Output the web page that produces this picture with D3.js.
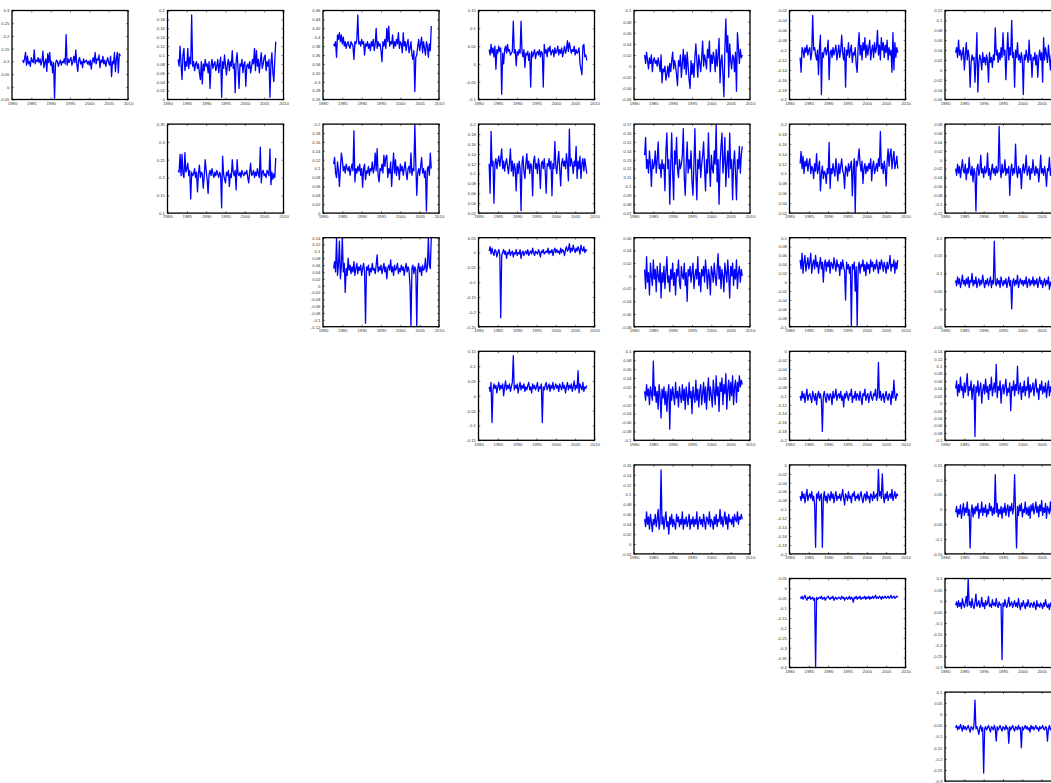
<!DOCTYPE html>
<html><head><meta charset="utf-8">
<script src="https://cdn.jsdelivr.net/npm/d3@7"></script>
<style>html,body{margin:0;padding:0;background:#fff;} svg{display:block;}</style>
</head><body><svg id="chart" width="1051" height="783"></svg>
<script>
// Quarterly observation dates shared by every series
const quarters = d3.range(102).map(i => 1982.75 + i * 0.25);
const xTicks = [1980, 1985, 1990, 1995, 2000, 2005, 2010];

// ---- row 1 ----
const s11 = [
0.105,0.095,0.11,0.135,0.085,0.12,0.09,0.1,0.08,0.115,
0.1,0.095,0.145,0.09,0.105,0.1,0.115,0.095,0.11,0.085,
0.1,0.14,0.075,0.095,0.11,0.06,0.13,0.095,0.135,0.085,
0.1,0.055,0.095,-0.045,0.09,0.105,0.1,0.08,0.095,0.105,
0.085,0.1,0.095,0.11,0.09,0.205,0.085,0.11,0.095,0.105,
0.115,0.085,0.1,0.12,0.095,0.145,0.09,0.06,0.105,0.115,
0.09,0.1,0.075,0.11,0.095,0.1,0.105,0.09,0.1,0.085,
0.105,0.07,0.1,0.115,0.095,0.135,0.09,0.11,0.105,0.125,
0.075,0.105,0.095,0.12,0.09,0.105,0.08,0.1,0.115,0.095,
0.085,0.12,0.04,0.1,0.09,0.135,0.06,0.11,0.135,0.055,
0.13,0.12];
const yt11 = [-0.05,0,0.05,0.1,0.15,0.2,0.25,0.3];

const s12 = [
0.09,0.075,0.12,0.08,0.045,0.1,0.115,0.065,0.085,0.075,
0.115,0.07,0.095,0.08,0.19,0.075,0.085,0.065,0.08,0.085,
0.07,0.08,0.06,0.045,0.085,0.035,0.08,0.065,0.09,0.075,
0.08,0.06,0.085,0.025,0.075,0.09,0.07,0.08,0.085,0.065,
0.075,0.09,0.06,0.08,0.095,0.005,0.085,0.07,0.1,0.075,
0.055,0.08,0.09,0.065,0.085,0.075,0.11,0.07,0.08,0.015,
0.085,0.105,0.07,0.025,0.08,0.075,0.09,0.06,0.08,0.085,
0.03,0.075,0.08,0.07,0.085,0.06,0.075,0.09,0.08,0.115,
0.065,0.11,0.075,0.09,0.06,0.085,0.105,0.07,0.08,0.095,
0.1,0.065,0.085,0.075,0.09,0.005,0.08,0.105,0.06,0.04,
0.09,0.13];
const yt12 = [0,0.02,0.04,0.06,0.08,0.1,0.12,0.14,0.16,0.18,0.2];

const s13 = [
0.385,0.38,0.39,0.355,0.405,0.395,0.41,0.39,0.405,0.385,
0.4,0.38,0.39,0.375,0.385,0.39,0.38,0.375,0.39,0.385,
0.38,0.35,0.39,0.385,0.395,0.45,0.385,0.39,0.38,0.395,
0.385,0.39,0.36,0.385,0.38,0.39,0.375,0.385,0.37,0.39,
0.38,0.395,0.37,0.385,0.42,0.375,0.39,0.38,0.385,0.37,
0.345,0.39,0.38,0.395,0.375,0.42,0.39,0.425,0.38,0.39,
0.385,0.405,0.375,0.39,0.38,0.395,0.385,0.41,0.375,0.39,
0.385,0.365,0.41,0.38,0.39,0.37,0.385,0.395,0.365,0.375,
0.39,0.36,0.35,0.37,0.278,0.355,0.36,0.38,0.395,0.37,
0.385,0.4,0.365,0.39,0.375,0.36,0.39,0.38,0.355,0.385,
0.37,0.425];
const yt13 = [0.26,0.28,0.3,0.32,0.34,0.36,0.38,0.4,0.42,0.44,0.46];

const s14 = [
0.04,0.025,0.055,0.03,0.045,0.02,0.05,-0.015,0.04,0.03,
0.05,0.035,0.045,-0.085,0.03,0,0.04,0.05,0.03,0.055,
0.035,0.04,0.025,0.03,0.035,0.12,0.03,0.04,-0.005,0.035,
0.025,0.04,0.03,0.12,0.035,0.02,0.04,-0.01,0.03,0.025,
0.035,0.01,0.03,-0.065,0.035,0.02,0.03,0.04,0.015,0.03,
0.035,0.025,0.04,0.02,0.035,0.03,-0.065,0.055,0.03,0.04,
0.02,0.045,0.035,0.05,0.025,0.035,0.04,0.02,0.045,0.03,
0.035,0.05,0.025,0.04,0.03,0.045,0.02,0.035,0.05,0.03,
0.04,0.065,0.035,0.06,0.045,0.03,0.04,0.035,0.05,0.025,
0.04,0.03,0.035,0.045,0,-0.015,-0.03,0.05,0.055,0.02,
0.025,0.01];
const yt14 = [-0.1,-0.05,0,0.05,0.1,0.15];

const s15 = [
0.02,0.005,0.025,0.01,-0.005,0.015,0.005,0.02,-0.01,0.01,
0.015,0.005,0.01,0,0.015,0.005,-0.01,0.02,-0.03,-0.005,
-0.01,0,-0.025,-0.015,0,-0.02,0.005,-0.01,0.01,0.025,
-0.005,0.01,0,-0.015,-0.035,0.01,0,0.02,-0.02,0.005,
0.03,-0.005,0.02,-0.015,0.025,0,-0.025,-0.04,0.01,-0.015,
0.005,-0.02,0.015,0.04,0.01,-0.02,0.02,0.005,-0.01,0.015,
0.045,0,0.02,0.01,-0.005,0.03,0.015,0.045,-0.01,0.02,
0.005,0.025,0.015,-0.01,0.03,0,0.02,0.05,-0.03,0.01,
0.02,-0.015,-0.055,0.03,0.085,0.025,0.055,-0.02,0.04,0.01,
-0.005,0.02,0.015,-0.01,0.025,-0.045,0.06,0.035,0.005,0.03,
0.015,0.02];
const yt15 = [-0.06,-0.04,-0.02,0,0.02,0.04,0.06,0.08,0.1];

const s16 = [
-0.115,-0.145,-0.095,-0.1,-0.115,-0.095,-0.105,-0.09,-0.11,-0.1,
-0.095,-0.12,-0.105,-0.03,-0.1,-0.095,-0.11,-0.12,-0.1,-0.15,
-0.095,-0.07,-0.19,-0.105,-0.115,-0.1,-0.095,-0.11,-0.1,-0.08,
-0.16,-0.105,-0.1,-0.115,-0.095,-0.11,-0.1,-0.09,-0.12,-0.105,
-0.09,-0.115,-0.1,-0.07,-0.105,-0.12,-0.095,-0.175,-0.1,-0.11,
-0.085,-0.115,-0.1,-0.09,-0.125,-0.105,-0.11,-0.095,-0.13,-0.145,
-0.095,-0.065,-0.11,-0.09,-0.12,-0.085,-0.1,-0.075,-0.115,-0.09,
-0.11,-0.095,-0.08,-0.12,-0.1,-0.09,-0.115,-0.085,-0.105,-0.095,
-0.06,-0.11,-0.09,-0.12,-0.075,-0.1,-0.085,-0.115,-0.09,-0.105,
-0.08,-0.12,-0.095,-0.11,-0.1,-0.145,-0.065,-0.14,-0.085,-0.115,
-0.095,-0.105];
const yt16 = [-0.2,-0.18,-0.16,-0.14,-0.12,-0.1,-0.08,-0.06,-0.04,-0.02];

const s17 = [
0.035,0.045,0.025,0.06,0.03,0.04,0.02,0.035,0.045,0,
0.03,0.055,0.02,0.04,0.025,-0.035,0.015,0.03,0.02,0.025,
-0.025,0.02,0.075,-0.045,0.015,0.03,0.02,0,0.035,0.015,
0.025,0.01,0.03,0.02,-0.025,0.035,0.015,0.025,0.005,0.03,
0.02,0.085,0.03,0.04,0.015,0.035,0.02,0.045,0.025,0.075,
0.03,0.04,-0.02,0.035,0.075,0.02,0.045,0.03,0.1,0.025,
0.035,-0.035,0.04,0.025,0.055,0.02,0.03,0.015,0.035,0.02,
-0.05,0.03,0.02,0.04,0.025,0.015,0.06,0.02,0.03,-0.015,
0.025,0.02,0.035,0.01,0.03,-0.015,0.025,0.04,0.02,0.035,
-0.025,0.065,0.02,0.045,0.03,0.015,0.05,0.025,0,0.03,
0.02,0.035];
const yt17 = [-0.06,-0.04,-0.02,0,0.02,0.04,0.06,0.08,0.1,0.12];

// ---- row 2 ----
const s22 = [
0.22,0.215,0.265,0.205,0.265,0.21,0.2,0.27,0.215,0.225,
0.24,0.205,0.22,0.14,0.215,0.205,0.21,0.225,0.2,0.215,
0.16,0.21,0.235,0.2,0.215,0.21,0.17,0.205,0.25,0.22,
0.195,0.155,0.21,0.22,0.205,0.225,0.21,0.2,0.215,0.205,
0.22,0.21,0.2,0.215,0.205,0.115,0.26,0.21,0.195,0.185,
0.215,0.205,0.22,0.175,0.21,0.2,0.25,0.215,0.205,0.22,
0.165,0.25,0.21,0.205,0.215,0.2,0.22,0.21,0.205,0.215,
0.21,0.22,0.2,0.185,0.215,0.24,0.205,0.21,0.22,0.2,
0.215,0.205,0.225,0.21,0.2,0.285,0.185,0.215,0.22,0.205,
0.21,0.2,0.22,0.215,0.205,0.28,0.18,0.215,0.195,0.21,
0.2,0.255];
const yt22 = [0.1,0.15,0.2,0.25,0.3,0.35];

const s23 = [
0.11,0.125,0.09,0.08,0.115,0.095,0.06,0.1,0.135,0.12,
0.095,0.105,0.09,0.11,0.1,0.095,0.105,0.085,0.1,0.11,
0.095,0.185,0.07,0.1,0.09,0.105,0.095,0.11,0.085,0.1,
0.058,0.1,0.11,0.075,0.095,0.09,0.105,0.085,0.1,0.095,
0.115,0.09,0.1,0.135,0.095,0.145,0.085,0.07,0.1,0.095,
0.11,0.09,0.13,0.105,0.125,0.13,0.08,0.1,0.09,0.115,
0.06,0.1,0.135,0.09,0.12,0.085,0.105,0.1,0.075,0.11,
0.095,0.105,0.085,0.1,0.115,0.09,0.075,0.1,0.105,0.09,
0.135,0.085,0.1,0.095,0.2,0.11,0.04,0.09,0.1,0.085,
0.105,0.125,0.09,0.1,0.08,0.095,0.005,0.1,0.105,0.085,
0.135,0.1];
const yt23 = [0,0.02,0.04,0.06,0.08,0.1,0.12,0.14,0.16,0.18,0.2];

const s24 = [
0.12,0.06,0.185,0.115,0.125,0.04,0.12,0.13,0.11,0.125,
0.135,0.115,0.13,0.15,0.11,0.125,0.105,0.12,0.13,0.115,
0.1,0.12,0.15,0.105,0.125,0.095,0.12,0.11,0.065,0.12,
0.1,0.125,0.11,0.025,0.12,0.135,0.105,0.09,0.12,0.14,
0.11,0.125,0.1,0.12,0.115,0.055,0.125,0.135,0.11,0.12,
0.1,0.13,0.115,0.07,0.12,0.125,0.11,0.13,0.105,0.06,
0.12,0.115,0.13,0.11,0.125,0.055,0.12,0.11,0.165,0.115,
0.1,0.125,0.145,0.11,0.075,0.12,0.13,0.115,0.125,0.11,
0.14,0.12,0.085,0.19,0.115,0.13,0.12,0.1,0.125,0.115,
0.155,0.09,0.125,0.11,0.135,0.09,0.12,0.13,0.105,0.13,
0.115,0.1];
const yt24 = [0.02,0.04,0.06,0.08,0.1,0.12,0.14,0.16,0.18,0.2];

const s25 = [
0.135,0.155,0.12,0.13,0.115,0.14,0.125,0.1,0.13,0.12,
0.125,0.14,0.115,0.13,0.15,0.12,0.125,0.11,0.13,0.12,
0.125,0.095,0.14,0.16,0.12,0.13,0.08,0.125,0.16,0.115,
0.085,0.14,0.125,0.155,0.12,0.11,0.13,0.12,0.125,0.135,
0.165,0.11,0.09,0.125,0.15,0.115,0.13,0.12,0.14,0.105,
0.09,0.125,0.165,0.115,0.085,0.13,0.12,0.14,0.11,0.125,
0.135,0.15,0.12,0.095,0.13,0.115,0.16,0.125,0.1,0.135,
0.12,0.115,0.14,0.125,0.17,0.105,0.13,0.08,0.125,0.145,
0.16,0.115,0.13,0.155,0.1,0.125,0.14,0.11,0.16,0.12,
0.13,0.085,0.125,0.14,0.115,0.085,0.13,0.12,0.145,0.115,
0.135,0.145];
const yt25 = [0.07,0.08,0.09,0.1,0.11,0.12,0.13,0.14,0.15,0.16,0.17];

const s26 = [
0.12,0.145,0.11,0.135,0.1,0.125,0.115,0.13,0.105,0.12,
0.13,0.1,0.115,0.11,0.09,0.12,0.105,0.14,0.1,0.11,
0.125,0.065,0.1,0.115,0.09,0.105,0.1,0.08,0.11,0.1,
0.163,0.07,0.11,0.1,0.12,0.105,0.095,0.13,0.11,0.085,
0.12,0.1,0.115,0.13,0.105,0.1,0.07,0.115,0.11,0.095,
0.12,0.105,0.115,0.125,0.055,0.11,0.13,0.02,0.125,0.115,
0.13,0.15,0.12,0.105,0.125,0.08,0.11,0.12,0.1,0.115,
0.105,0.12,0.11,0.13,0.085,0.115,0.125,0.1,0.11,0.12,
0.105,0.13,0.115,0.185,0.11,0.12,0.1,0.125,0.11,0.075,
0.125,0.15,0.115,0.14,0.15,0.11,0.13,0.145,0.11,0.12,
0.135,0.11];
const yt26 = [0.02,0.04,0.06,0.08,0.1,0.12,0.14,0.16,0.18,0.2];

const s27 = [
-0.02,-0.035,-0.01,-0.03,-0.015,-0.04,-0.02,0,-0.025,-0.03,
-0.01,-0.045,-0.02,-0.03,0.005,-0.025,-0.035,-0.015,-0.05,-0.02,
-0.03,-0.115,-0.02,-0.01,-0.035,-0.025,0.01,-0.03,-0.02,-0.04,
-0.015,-0.03,-0.025,0.015,-0.035,-0.02,-0.045,-0.025,-0.01,-0.03,
-0.02,-0.035,-0.015,-0.03,-0.025,0.075,-0.02,-0.04,-0.01,-0.03,
-0.025,0,-0.035,-0.02,-0.03,-0.015,-0.08,-0.025,-0.01,-0.035,
-0.02,-0.03,0.035,-0.025,-0.04,-0.015,-0.03,-0.02,-0.065,-0.025,
-0.01,-0.03,-0.02,0.01,-0.035,-0.025,-0.015,-0.045,-0.02,-0.03,
0,-0.025,-0.035,-0.015,-0.03,-0.02,-0.05,-0.025,0.01,-0.03,
-0.02,-0.035,-0.015,-0.03,-0.06,-0.02,-0.025,0.005,-0.035,-0.02,
-0.03,-0.025];
const yt27 = [-0.12,-0.1,-0.08,-0.06,-0.04,-0.02,0,0.02,0.04,0.06,0.08];

// ---- row 3 ----
const s33 = [
0.05,0.07,0.04,0.14,0.03,0.06,0.13,0.02,0.055,0.14,
0.04,0.065,-0.02,0.05,0.03,0.08,0.045,0.06,0.035,0.055,
0.04,0.07,0.03,0.05,0.065,0.035,0.055,0.045,0.06,0.03,
0.05,0.065,0.04,-0.11,0.055,0.045,0.06,0.03,0.05,0.04,
0.065,0.045,0.05,0.035,0.06,0.09,0.04,0.055,0.045,0.06,
0.035,0.05,0.065,0.04,0.055,0.02,0.05,0.06,0.045,0.075,
0.04,0.055,0.03,0.06,0.045,0.05,0.065,0.035,0.05,0.04,
0.06,0.045,0.055,0.03,0.05,0.065,0.04,0.055,0.045,0,
-0.12,0.05,0.06,0.035,0.055,0.045,-0.12,0.05,0.065,0.04,
0.055,0.03,0.06,0.045,0.05,0.08,0.04,0.055,0.14,0.06,
0.05,0.14];
const yt33 = [-0.12,-0.1,-0.08,-0.06,-0.04,-0.02,0,0.02,0.04,0.06,0.08,0.1,0.12,0.14];

const s34 = [
0.005,0.02,-0.005,0.015,0,-0.01,0.01,0.005,-0.015,0,
0.01,-0.005,-0.22,-0.01,0,0.01,-0.005,0.005,-0.02,0,
-0.005,0.01,-0.01,0,0.005,-0.015,0,-0.005,0.01,-0.01,
0,-0.005,0.01,-0.02,0,0.005,-0.01,0,0.005,-0.005,
0.01,-0.01,0,0.005,-0.005,0.015,0,-0.01,0.005,0,
-0.005,0.01,0,-0.015,0.005,0,0.01,-0.005,0,0.005,
0,0.015,-0.005,0.005,0,0.01,-0.01,0.005,0.015,0,
0.01,0,0.005,-0.005,0.015,0,0.01,0.005,-0.01,0.01,
0.02,0.005,0.01,0.03,0,0.015,0.005,0.025,0.01,0,
0.015,0.005,0.02,0.01,-0.005,0.025,0.01,0.005,0.02,0,
0.01,0.005];
const yt34 = [-0.25,-0.2,-0.15,-0.1,-0.05,0,0.05];

const s35 = [
0.01,-0.02,0.03,-0.01,0.005,-0.03,0.02,0,-0.015,0.025,
-0.005,0.01,-0.025,0.015,0,-0.01,0.02,-0.035,0.005,-0.01,
0.015,-0.02,0.005,0.03,-0.01,0,-0.025,0.01,-0.005,0.02,
-0.015,0.005,-0.03,0.01,0,0.025,-0.01,-0.02,0.015,0,
-0.005,0.02,-0.015,0.005,-0.04,0.01,0,0.015,-0.01,0.005,
0.02,-0.02,0,0.01,-0.005,0.03,-0.015,0.005,-0.025,0.01,
0,0.015,-0.01,0.025,0.005,-0.02,0.01,0,-0.03,0.015,
0.005,-0.01,0.02,0,-0.015,0.01,0.035,-0.005,0.015,-0.02,
0.01,0,-0.025,0.02,0.005,-0.01,0.025,0,-0.035,0.015,
0,0.02,-0.015,0.01,-0.005,0.025,-0.02,0.005,0.015,-0.01,
0.01,0];
const yt35 = [-0.08,-0.06,-0.04,-0.02,0,0.02,0.04,0.06];

const s36 = [
0.05,0.03,0.065,0.02,0.045,0.06,0.025,0.04,0.055,0.03,
0.045,0.065,0.02,0.04,0.05,0.03,0.06,0.035,0.045,0.02,
0.04,0.055,0.03,0.045,0,0.04,0.05,0.025,0.045,0.035,
0.05,0.02,0.045,0.04,0.03,0.055,0.04,0.025,0.05,0.035,
0.04,0.015,0.045,0.03,0.05,0.035,0.025,-0.04,0.045,0.03,
0.04,0.02,0.035,-0.1,0.04,0.03,0.045,-0.02,0.035,-0.1,
0.03,0.045,0.02,0.04,0.035,0.05,0.025,0.04,0.015,0.045,
0.03,0.04,0.02,0.05,0.035,0.045,0.025,0.04,0.03,0.05,
0.035,0.02,0.045,0.03,0.05,0.04,0.025,0.045,0.035,0.02,
0.045,0.03,0.04,0.06,0.025,0.04,0.035,0.05,0.02,0.045,
0.03,0.05];
const yt36 = [-0.1,-0.08,-0.06,-0.04,-0.02,0,0.02,0.04,0.06,0.08,0.1];

const s37 = [
0.08,0.065,0.09,0.07,0.085,0.06,0.075,0.095,0.07,0.08,
0.065,0.085,0.07,0.09,0.06,0.08,0.075,0.1,0.065,0.08,
0.07,0.09,0.06,0.075,0.085,0.065,0.08,0.07,0.095,0.075,
0.06,0.08,0.07,0.085,0.065,0.075,0.09,0.06,0.08,0.07,
0.19,0.075,0.065,0.085,0.07,0.08,0.06,0.09,0.075,0.065,
0.08,0.07,0.085,0.06,0.075,0.09,0.065,0.08,0,0.075,
0.085,0.065,0.08,0.07,0.095,0.06,0.075,0.085,0.07,0.08,
0.065,0.08,0.07,0.09,0.06,0.075,0.085,0.065,0.08,0.07,
0.09,0.065,0.08,0.07,0.085,0.06,0.075,0.09,0.07,0.08,
0.06,0.075,0.085,0.065,0.08,0.07,0.09,0.055,0.075,0.065,
0.06,0.05];
const yt37 = [-0.05,0,0.05,0.1,0.15,0.2];

// ---- row 4 ----
const s44 = [
0.03,0.015,0.045,-0.09,0.02,0.04,0.025,0.035,0.01,0.03,
0.045,0.02,0.035,0.025,0.04,0,0.03,0.05,0.02,0.035,
0.025,0.04,0.015,0.03,0.045,0.135,0.02,0.035,0.025,0.04,
0.01,0.03,0.045,0.02,0.035,0.025,0.04,0.015,0.03,0.02,
0.035,0.045,0.02,0.03,0.01,0.04,0.025,0.035,0.02,0.03,
0.045,0.015,0.03,0.025,0.04,-0.09,0.03,0.02,0.035,0.045,
0.02,0.03,0.04,0.015,0.035,0.025,0.045,0.02,0.03,0.04,
0.025,0.035,0.015,0.04,0.03,0.02,0.045,0.025,0.035,0.01,
0.03,0.045,0.02,0.035,0.025,0.04,0.015,0.03,0.05,0.02,
0.035,0.025,0.085,0.01,0.04,0.03,0.02,0.045,0.015,0.03,
0.025,0.035];
const yt44 = [-0.15,-0.1,-0.05,0,0.05,0.1,0.15];

const s45 = [
0.01,-0.01,0.025,0,0.015,-0.02,0.02,0.005,-0.01,0.078,
0,0.02,-0.015,0.01,-0.03,0.025,0,-0.05,0.015,-0.005,
0.02,-0.02,0.01,-0.035,0.005,0.025,-0.075,0.015,-0.01,0.02,
0,-0.02,0.03,-0.005,0.01,-0.025,0.02,0,-0.015,0.025,
-0.01,0.015,-0.03,0.02,0,-0.02,0.03,-0.005,0.01,-0.04,
0.02,0,-0.015,0.035,-0.01,0.015,-0.025,0.01,0.025,-0.02,
0.005,0.03,-0.015,0.02,-0.03,0.01,0.04,-0.01,0.02,0,
-0.025,0.035,0.01,-0.02,0.045,0,0.02,-0.035,0.03,0.01,
0.04,-0.02,0.025,0.005,0.05,-0.03,0.015,0.035,-0.01,0.03,
0,0.045,-0.02,0.02,0.035,-0.015,0.03,0.01,0.045,0.02,
0.035,0.025];
const yt45 = [-0.1,-0.08,-0.06,-0.04,-0.02,0,0.02,0.04,0.06,0.08,0.1];

const s46 = [
-0.1,-0.11,-0.09,-0.105,-0.095,-0.115,-0.1,-0.085,-0.11,-0.1,
-0.095,-0.105,-0.115,-0.09,-0.1,-0.11,-0.095,-0.12,-0.1,-0.09,
-0.105,-0.095,-0.11,-0.18,-0.1,-0.09,-0.105,-0.115,-0.095,-0.1,
-0.11,-0.095,-0.1,-0.12,-0.09,-0.105,-0.1,-0.085,-0.11,-0.1,
-0.095,-0.105,-0.09,-0.11,-0.1,-0.125,-0.095,-0.105,-0.09,-0.1,
-0.11,-0.095,-0.1,-0.085,-0.115,-0.1,-0.105,-0.09,-0.11,-0.095,
-0.1,-0.11,-0.09,-0.105,-0.12,-0.095,-0.1,-0.085,-0.11,-0.1,
-0.095,-0.115,-0.1,-0.09,-0.105,-0.11,-0.095,-0.1,-0.085,-0.11,
-0.1,-0.025,-0.105,-0.09,-0.11,-0.1,-0.095,-0.115,-0.1,-0.09,
-0.105,-0.11,-0.095,-0.1,-0.12,-0.09,-0.105,-0.065,-0.1,-0.11,
-0.095,-0.1];
const yt46 = [-0.2,-0.18,-0.16,-0.14,-0.12,-0.1,-0.08,-0.06,-0.04,-0.02,0];

const s47 = [
0.04,0.06,0.02,0.05,0.03,0.07,0.035,0.045,0.015,0.055,
0.03,0.05,0.08,0.02,0.045,0.035,0.06,0.01,0.04,0.05,
-0.09,0.045,0.03,0.06,0.02,0.04,0.055,0,0.035,0.05,
0.025,0.065,0.03,0.045,0.01,0.05,0.035,0.07,0.02,0.04,
0.055,0.03,0.105,0.015,0.045,0.035,0.06,0,0.04,0.05,
0.025,0.045,0.065,0.02,0.04,0.03,0.055,-0.02,0.045,0.035,
0.06,0.02,0.05,0.035,0.1,0.025,0.04,0.055,0.01,0.045,
0.03,0.06,0.02,0.045,0.035,0.07,0.015,0.05,0.03,0.04,
0.055,0.02,0.045,0.065,0.03,0.04,0.01,0.05,0.035,0.06,
0.025,0.045,0.03,0.055,0.015,0.04,0.06,0.02,0.045,0.03,
0.035,0.05];
const yt47 = [-0.1,-0.08,-0.06,-0.04,-0.02,0,0.02,0.04,0.06,0.08,0.1,0.12,0.14];

// ---- row 5 ----
const s55 = [
0.05,0.035,0.065,0.04,0.055,0.03,0.06,0.045,0.025,0.05,
0.04,0.06,0.035,0.05,0.07,0.03,0.045,0.15,0.04,0.055,
0.03,0.05,0.065,0.035,0.045,0.02,0.055,0.04,0.06,0.035,
0.05,0.04,0.03,0.06,0.045,0.055,0.035,0.05,0.04,0.065,
0.03,0.05,0.04,0.055,0.035,0.045,0.06,0.03,0.05,0.04,
0.055,0.035,0.05,0.04,0.065,0.03,0.045,0.055,0.04,0.05,
0.035,0.06,0.045,0.03,0.055,0.05,0.04,0.065,0.035,0.05,
0.045,0.03,0.055,0.04,0.06,0.035,0.05,0.045,0.07,0.04,
0.055,0.035,0.05,0.065,0.04,0.055,0.03,0.06,0.045,0.05,
0.04,0.055,0.035,0.06,0.05,0.045,0.065,0.04,0.055,0.05,
0.06,0.05];
const yt55 = [-0.02,0,0.02,0.04,0.06,0.08,0.1,0.12,0.14,0.16];

const s56 = [
-0.07,-0.08,-0.06,-0.075,-0.065,-0.085,-0.07,-0.055,-0.08,-0.07,
-0.065,-0.075,-0.06,-0.08,-0.07,-0.09,-0.185,-0.065,-0.075,-0.06,
-0.08,-0.07,-0.065,-0.185,-0.075,-0.06,-0.08,-0.07,-0.085,-0.065,
-0.07,-0.08,-0.06,-0.075,-0.065,-0.085,-0.07,-0.06,-0.08,-0.07,
-0.075,-0.065,-0.08,-0.07,-0.055,-0.075,-0.09,-0.065,-0.07,-0.08,
-0.06,-0.075,-0.07,-0.085,-0.065,-0.07,-0.06,-0.08,-0.07,-0.075,
-0.065,-0.08,-0.07,-0.06,-0.075,-0.085,-0.07,-0.065,-0.08,-0.06,
-0.075,-0.07,-0.085,-0.065,-0.07,-0.08,-0.06,-0.075,-0.07,-0.065,
-0.08,-0.01,-0.07,-0.06,-0.075,-0.02,-0.07,-0.085,-0.065,-0.075,
-0.06,-0.08,-0.07,-0.065,-0.075,-0.055,-0.08,-0.07,-0.06,-0.075,
-0.065,-0.07];
const yt56 = [-0.2,-0.18,-0.16,-0.14,-0.12,-0.1,-0.08,-0.06,-0.04,-0.02,0];

const s57 = [
-0.01,0.01,-0.025,0,-0.015,0.015,-0.03,-0.005,0.02,-0.02,
0.005,-0.01,0.025,-0.02,0,-0.13,-0.01,0.015,-0.025,0.005,
-0.015,0.01,-0.005,0.02,-0.03,0,-0.01,0.025,-0.02,0.005,
-0.01,0.015,-0.025,0,-0.015,0.02,-0.005,0.01,-0.02,0.005,
-0.015,0.117,-0.01,0.02,-0.025,0,-0.015,0.01,-0.03,0.005,
-0.01,0.02,-0.02,0,0.015,-0.025,0.01,-0.005,0.02,-0.015,
0.005,0.117,-0.01,-0.13,0.01,-0.02,0.015,-0.005,0.02,-0.025,
0,-0.01,0.025,-0.015,0.005,-0.02,0.01,-0.03,0.015,-0.005,
0.02,-0.015,0,0.025,-0.01,0.01,-0.025,0.015,-0.005,0.03,
-0.02,0.005,-0.01,0.02,-0.03,0.01,0,-0.015,0.025,-0.01,
0.005,-0.005];
const yt57 = [-0.15,-0.1,-0.05,0,0.05,0.1,0.15];

// ---- row 6 ----
const s66 = [
-0.045,-0.05,-0.04,-0.055,-0.045,-0.035,-0.05,-0.06,-0.045,-0.05,
-0.04,-0.055,-0.05,-0.045,-0.06,-0.05,-0.4,-0.045,-0.055,-0.05,
-0.045,-0.05,-0.04,-0.055,-0.05,-0.045,-0.06,-0.05,-0.045,-0.04,
-0.05,-0.055,-0.045,-0.05,-0.04,-0.06,-0.05,-0.045,-0.055,-0.05,
-0.045,-0.05,-0.055,-0.04,-0.05,-0.045,-0.06,-0.05,-0.045,-0.055,
-0.05,-0.04,-0.055,-0.045,-0.05,-0.07,-0.045,-0.05,-0.04,-0.055,
-0.045,-0.05,-0.04,-0.055,-0.05,-0.045,-0.05,-0.04,-0.055,-0.045,
-0.05,-0.04,-0.055,-0.045,-0.05,-0.04,-0.05,-0.045,-0.035,-0.05,
-0.045,-0.05,-0.04,-0.045,-0.055,-0.04,-0.05,-0.045,-0.04,-0.05,
-0.045,-0.04,-0.05,-0.045,-0.035,-0.05,-0.045,-0.04,-0.05,-0.045,
-0.04,-0.045];
const yt66 = [-0.4,-0.35,-0.3,-0.25,-0.2,-0.15,-0.1,-0.05,0,0.05];

const s67 = [
-0.02,-0.005,-0.03,0,-0.025,-0.01,-0.035,0.01,-0.015,-0.03,
-0.01,0.02,-0.025,0.1,-0.02,-0.005,-0.03,0.01,-0.02,-0.035,
-0.01,0.03,-0.025,-0.015,0,-0.03,-0.02,0.015,-0.025,-0.01,
-0.035,0,-0.02,-0.01,0.02,-0.025,-0.015,-0.03,0.005,-0.02,
-0.01,-0.025,0.01,-0.02,-0.03,-0.005,-0.02,-0.015,-0.265,-0.01,
-0.025,0.005,-0.02,-0.03,-0.01,0.015,-0.025,-0.015,-0.005,-0.03,
-0.015,0,-0.025,-0.01,-0.03,0.01,-0.02,-0.04,-0.01,-0.025,
0,-0.02,-0.035,-0.01,-0.025,0.005,-0.02,-0.03,-0.01,-0.015,
-0.03,-0.005,-0.02,-0.04,0,-0.025,-0.015,-0.03,-0.01,-0.02,
-0.035,-0.01,-0.025,0.005,-0.02,-0.03,-0.015,-0.04,-0.01,-0.025,
-0.02,-0.03];
const yt67 = [-0.3,-0.25,-0.2,-0.15,-0.1,-0.05,0,0.05,0.1];

// ---- row 7 ----
const s77 = [
-0.06,-0.05,-0.07,-0.055,-0.065,-0.045,-0.06,-0.075,-0.05,-0.065,
-0.055,-0.07,-0.06,-0.05,-0.065,-0.08,-0.055,-0.06,-0.07,-0.05,
0.064,-0.065,-0.055,-0.07,-0.09,-0.06,-0.05,-0.075,-0.06,-0.264,
-0.065,-0.055,-0.07,-0.06,-0.05,-0.065,-0.08,-0.055,-0.06,-0.07,
-0.05,-0.065,-0.12,-0.055,-0.07,-0.06,-0.05,-0.065,-0.075,-0.055,
-0.06,-0.07,-0.05,-0.065,-0.06,-0.13,-0.055,-0.07,-0.06,-0.05,
-0.065,-0.075,-0.055,-0.06,-0.07,-0.05,-0.065,-0.06,-0.15,-0.055,
-0.07,-0.06,-0.05,-0.065,-0.055,-0.07,-0.06,-0.08,-0.05,-0.065,
-0.055,-0.07,-0.06,-0.05,-0.065,-0.06,-0.075,-0.055,-0.065,-0.06,
-0.05,-0.065,-0.07,-0.055,-0.06,-0.12,-0.065,-0.05,-0.07,-0.06,
-0.055,-0.065];
const yt77 = [-0.3,-0.25,-0.2,-0.15,-0.1,-0.05,0,0.05,0.1];

// Upper-triangular grid of panels
const panels = [
  {row:0,col:0,values:s11,yTicks:yt11},{row:0,col:1,values:s12,yTicks:yt12},
  {row:0,col:2,values:s13,yTicks:yt13},{row:0,col:3,values:s14,yTicks:yt14},
  {row:0,col:4,values:s15,yTicks:yt15},{row:0,col:5,values:s16,yTicks:yt16},
  {row:0,col:6,values:s17,yTicks:yt17},
  {row:1,col:1,values:s22,yTicks:yt22},{row:1,col:2,values:s23,yTicks:yt23},
  {row:1,col:3,values:s24,yTicks:yt24},{row:1,col:4,values:s25,yTicks:yt25},
  {row:1,col:5,values:s26,yTicks:yt26},{row:1,col:6,values:s27,yTicks:yt27},
  {row:2,col:2,values:s33,yTicks:yt33},{row:2,col:3,values:s34,yTicks:yt34},
  {row:2,col:4,values:s35,yTicks:yt35},{row:2,col:5,values:s36,yTicks:yt36},
  {row:2,col:6,values:s37,yTicks:yt37},
  {row:3,col:3,values:s44,yTicks:yt44},{row:3,col:4,values:s45,yTicks:yt45},
  {row:3,col:5,values:s46,yTicks:yt46},{row:3,col:6,values:s47,yTicks:yt47},
  {row:4,col:4,values:s55,yTicks:yt55},{row:4,col:5,values:s56,yTicks:yt56},
  {row:4,col:6,values:s57,yTicks:yt57},
  {row:5,col:5,values:s66,yTicks:yt66},{row:5,col:6,values:s67,yTicks:yt67},
  {row:6,col:6,values:s77,yTicks:yt77}
];

const boxW = 116, boxH = 89;
const colLeft = c => 12 + 155.5 * c;
const rowTop = r => 10.5 + 113.6 * r;
const fmt = v => String(+v.toFixed(4));

const svg = d3.select('#chart');
const x = d3.scaleLinear().domain([1980, 2010]).range([0, boxW]);

panels.forEach((p, k) => {
  const g = svg.append('g')
    .attr('transform', `translate(${colLeft(p.col)},${rowTop(p.row)})`)
    .attr('font-family', '"Liberation Sans", Arial, sans-serif');
  const y = d3.scaleLinear().domain(d3.extent(p.yTicks)).range([boxH, 0]);

  const clipId = 'clip' + k;
  g.append('clipPath').attr('id', clipId)
    .append('rect').attr('width', boxW).attr('height', boxH);

  const line = d3.line().x((d, i) => x(quarters[i])).y(d => y(d));
  g.append('path').datum(p.values)
    .attr('clip-path', `url(#${clipId})`)
    .attr('fill', 'none').attr('stroke', '#0000ff')
    .attr('stroke-width', 1.3).attr('stroke-linejoin', 'round')
    .attr('d', line);

  const styleAxis = (sel, labels) => {
    sel.select('.domain').remove();
    sel.selectAll('.tick line').attr('stroke', '#000').attr('stroke-width', 0.6);
    if (labels) sel.selectAll('.tick text').attr('font-size', 4.3).attr('fill', '#333');
    else sel.selectAll('.tick text').remove();
  };

  g.append('g').attr('transform', `translate(0,${boxH})`)
    .call(d3.axisBottom(x).tickValues(xTicks).tickFormat(d3.format('d')).tickSize(-1.8).tickPadding(2.2))
    .call(s => styleAxis(s, true));
  g.append('g')
    .call(d3.axisTop(x).tickValues(xTicks).tickSize(-1.8))
    .call(s => styleAxis(s, false));
  g.append('g')
    .call(d3.axisLeft(y).tickValues(p.yTicks).tickFormat(fmt).tickSize(-1.8).tickPadding(2.5))
    .call(s => styleAxis(s, true));
  g.append('g').attr('transform', `translate(${boxW},0)`)
    .call(d3.axisRight(y).tickValues(p.yTicks).tickSize(-1.8))
    .call(s => styleAxis(s, false));

  g.append('rect').attr('width', boxW).attr('height', boxH)
    .attr('fill', 'none').attr('stroke', '#000').attr('stroke-width', 1.3);
});
</script></body></html>
